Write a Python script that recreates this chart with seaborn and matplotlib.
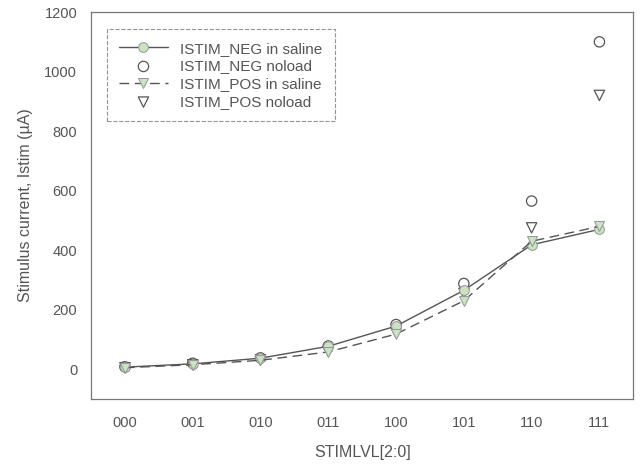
import pandas as pd
import matplotlib
matplotlib.use("Agg")
import matplotlib.pyplot as plt
import seaborn as sns

levels = ["000", "001", "010", "011", "100", "101", "110", "111"]
neg_saline = [7, 18, 37, 77, 145, 265, 418, 470]
neg_noload = [8, 20, 38, 78, 150, 288, 565, 1100]
pos_saline = [5, 15, 30, 58, 118, 230, 430, 480]
pos_noload = [5, 15, 31, 60, 122, 255, 475, 920]

sns.set_style("white")
plt.rcParams['font.family'] = ['Liberation Sans', 'DejaVu Sans']
ink = '#555555'
green = '#c9e3c3'

x = list(range(len(levels)))
df = pd.DataFrame({'x': x, 'neg_saline': neg_saline, 'neg_noload': neg_noload,
                   'pos_saline': pos_saline, 'pos_noload': pos_noload})

fig = plt.figure(figsize=(6.41, 4.65), dpi=100)
ax = fig.add_axes([0.142, 0.142, 0.846, 0.832])

sns.lineplot(data=df, x='x', y='neg_saline', ax=ax, color=ink, lw=1.0,
             marker='o', markersize=7, markerfacecolor=green, markeredgecolor='#999999',
             label='ISTIM_NEG in saline')
sns.scatterplot(data=df, x='x', y='neg_noload', ax=ax, marker='o', s=55,
                facecolor='none', edgecolor=ink, linewidth=0.9, label='ISTIM_NEG noload')
sns.lineplot(data=df, x='x', y='pos_saline', ax=ax, color=ink, lw=1.0, linestyle=(0, (7, 4)),
             marker='v', markersize=7, markerfacecolor=green, markeredgecolor='#999999',
             label='ISTIM_POS in saline')
sns.scatterplot(data=df, x='x', y='pos_noload', ax=ax, marker='v', s=55,
                facecolor='none', edgecolor=ink, linewidth=0.9, label='ISTIM_POS noload')

ax.set_xlim(-0.5, 7.5)
ax.set_ylim(-100, 1200)
ax.set_xticks(x)
ax.set_xticklabels(levels)
ax.set_yticks(range(0, 1201, 200))
ax.tick_params(axis='both', direction='out', length=4, width=0.8, color=ink,
               labelcolor=ink, labelsize=10.5, pad=6)
ax.tick_params(axis='x', pad=8)
for s in ax.spines.values():
    s.set_color('#777777')
    s.set_linewidth(0.9)
    s.set_visible(True)

ax.set_xlabel('STIMLVL[2:0]', color=ink, fontsize=11.5, labelpad=11)
ax.set_ylabel('Stimulus current, Istim (\u00b5A)', color=ink, fontsize=11.5, labelpad=8)

leg = ax.legend(loc='upper left', bbox_to_anchor=(0.015, 0.975), fontsize=11,
                frameon=True, fancybox=False, handlelength=3.2, borderpad=0.8,
                labelspacing=0.25)
leg.get_frame().set_edgecolor('#777777')
leg.get_frame().set_linestyle('--')
leg.get_frame().set_linewidth(0.8)
for t in leg.get_texts():
    t.set_color(ink)

plt.savefig('out.png', dpi=100)
